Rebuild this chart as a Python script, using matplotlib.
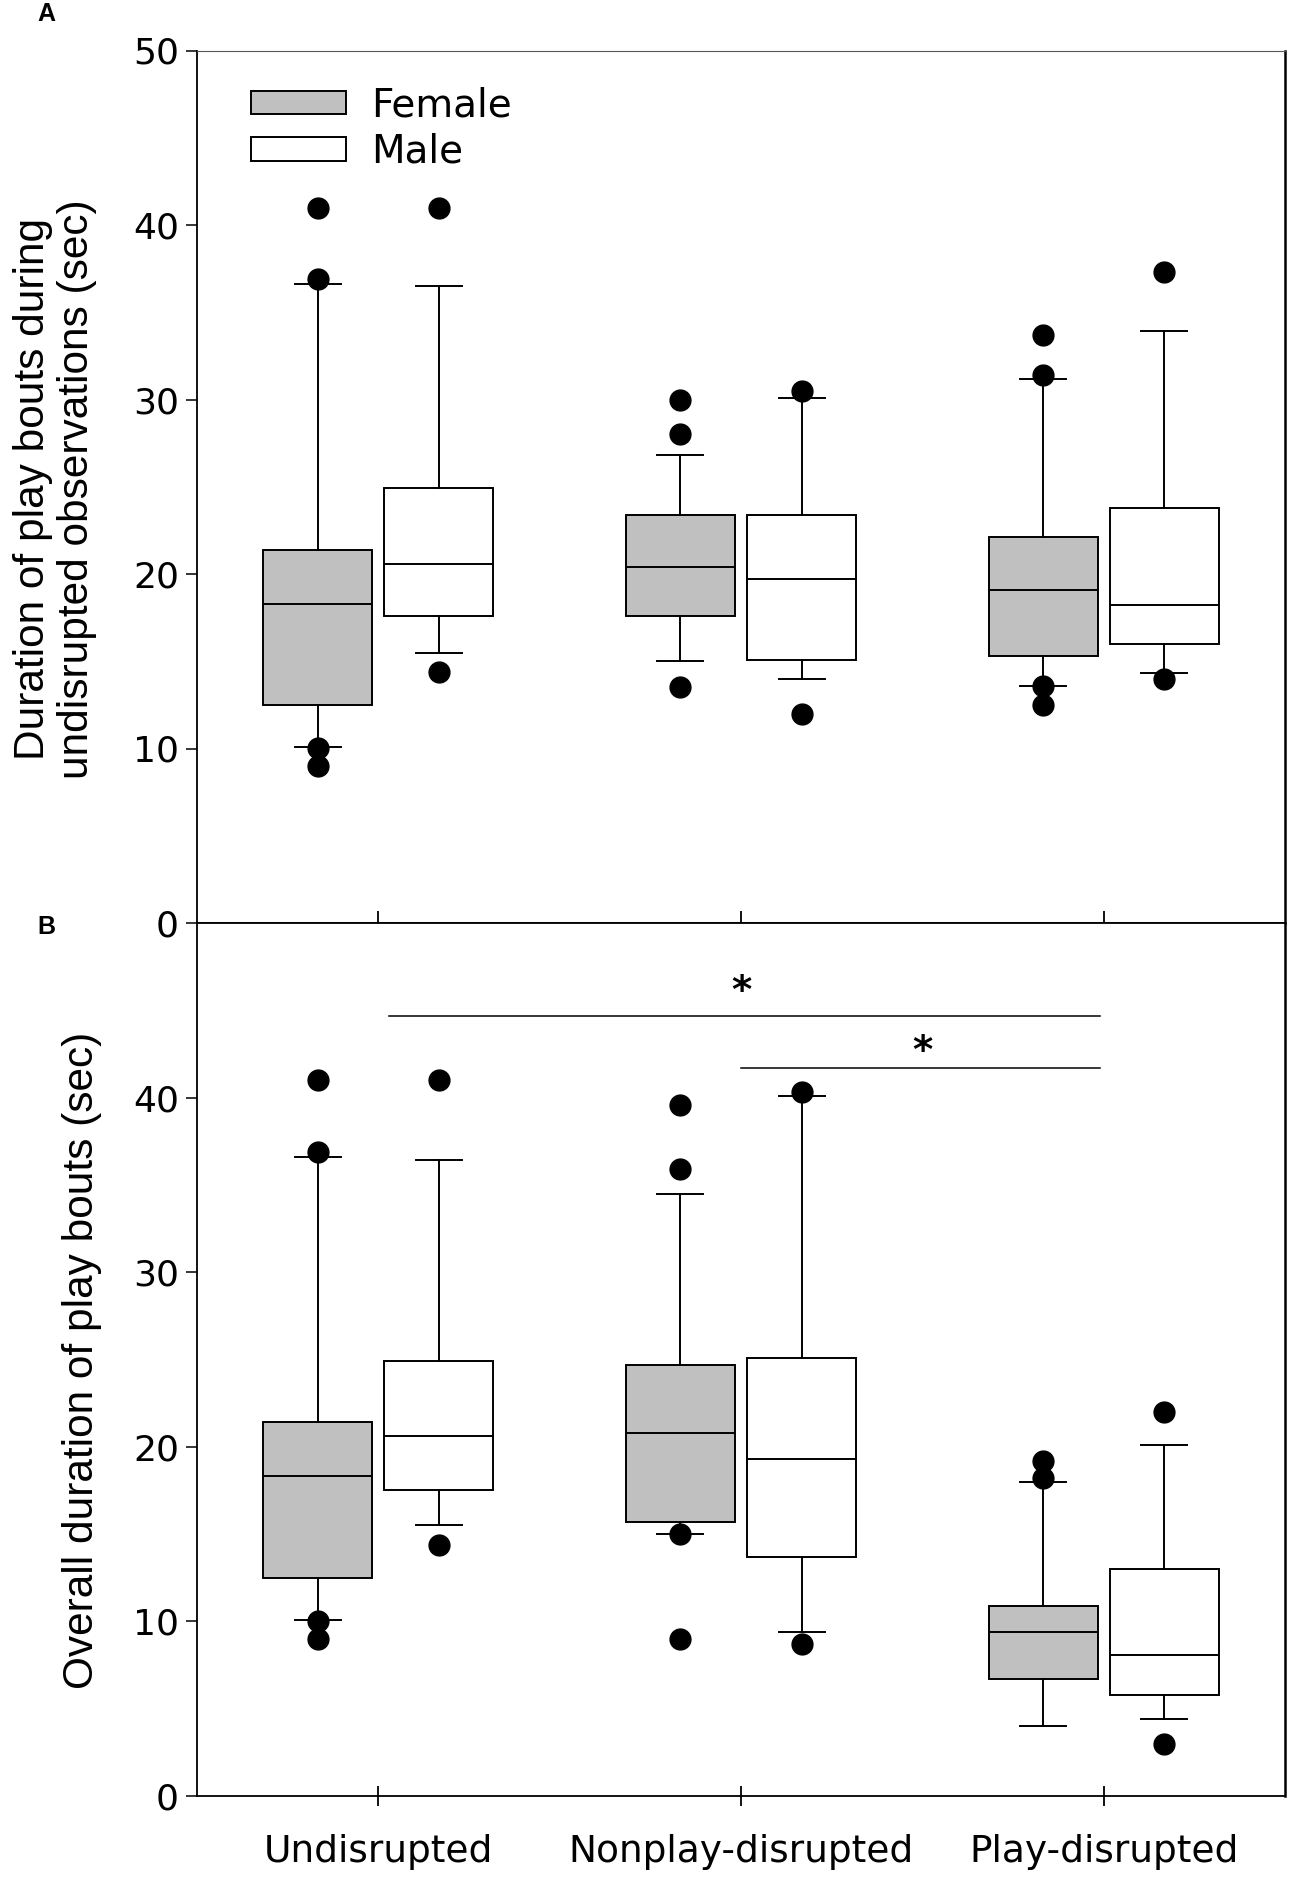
import matplotlib
matplotlib.use("Agg")
import matplotlib.pyplot as plt
from matplotlib.patches import Patch
from matplotlib import font_manager
from matplotlib.transforms import offset_copy

# ---------------- data ----------------
categories = ['Undisrupted', 'Nonplay-disrupted', 'Play-disrupted']
groups = ['Female', 'Male']

# Panel A: duration of play bouts during undisrupted observations
A_female_q1 = [12.5, 17.6, 15.3]
A_female_med = [18.3, 20.4, 19.1]
A_female_q3 = [21.4, 23.4, 22.1]
A_female_wlo = [10.1, 15.0, 13.6]
A_female_whi = [36.6, 26.8, 31.2]
A_female_fliers = [[41.0, 36.9, 10.05, 9.0], [30.0, 28.0, 13.5], [33.7, 31.4, 13.6, 12.5]]

A_male_q1 = [17.6, 15.1, 16.0]
A_male_med = [20.6, 19.7, 18.2]
A_male_q3 = [24.9, 23.4, 23.8]
A_male_wlo = [15.5, 14.0, 14.3]
A_male_whi = [36.5, 30.1, 33.9]
A_male_fliers = [[41.0, 14.4], [30.5, 12.0], [37.3, 14.0]]

# Panel B: overall duration of play bouts
B_female_q1 = [12.5, 15.7, 6.7]
B_female_med = [18.3, 20.8, 9.4]
B_female_q3 = [21.4, 24.7, 10.9]
B_female_wlo = [10.1, 15.0, 4.0]
B_female_whi = [36.6, 34.5, 18.0]
B_female_fliers = [[41.0, 36.9, 10.05, 9.0], [39.6, 35.9, 15.0, 9.0], [19.2, 18.2]]

B_male_q1 = [17.5, 13.7, 5.8]
B_male_med = [20.6, 19.3, 8.1]
B_male_q3 = [24.9, 25.1, 13.0]
B_male_wlo = [15.5, 9.4, 4.4]
B_male_whi = [36.4, 40.1, 20.1]
B_male_fliers = [[41.0, 14.4], [40.3, 8.7], [22.0, 3.0]]

# significance comparisons in panel B (category indices) and labels
sig_pairs = [(0, 2), (1, 2)]
sig_levels = [44.7, 41.7]
sig_label_y = [46.4, 43.0]
sig_labels = ['*', '*']

yticks_A = [0, 10, 20, 30, 40, 50]
yticks_B = [0, 10, 20, 30, 40]
ylabel_A = 'Duration of play bouts during\nundisrupted observations (sec)'
ylabel_B = 'Overall duration of play bouts (sec)'

# ---------------- style ----------------
female_color = '#c0c0c0'
male_color = '#ffffff'
names = {f.name for f in font_manager.fontManager.ttflist}
narrow = 'Liberation Sans Narrow' if 'Liberation Sans Narrow' in names else 'Liberation Sans'

W, H = 1299, 1888
fig = plt.figure(figsize=(W / 100, H / 100), dpi=100)

left, right = 197 / W, 1285 / W
yA_top, yMid, yB_bot = 1 - 50.5 / H, 1 - 923 / H, 1 - 1796 / H
axA = fig.add_axes([left, yMid, right - left, yA_top - yMid])
axB = fig.add_axes([left, yB_bot, right - left, yMid - yB_bot])

offset = 0.167
bw = 0.3
capw = 0.127
LW = 1.4


def make_stats(q1, med, q3, wlo, whi, fl):
    out = []
    for i in range(len(q1)):
        out.append(dict(q1=q1[i], med=med[i], q3=q3[i], whislo=wlo[i],
                        whishi=whi[i], fliers=fl[i]))
    return out


def draw(ax, fstats, mstats):
    common = dict(widths=bw, capwidths=capw, patch_artist=True, manage_ticks=False,
                  whiskerprops=dict(color='black', linewidth=LW),
                  capprops=dict(color='black', linewidth=LW),
                  medianprops=dict(color='black', linewidth=LW),
                  flierprops=dict(marker='o', markerfacecolor='black',
                                  markeredgecolor='black', markersize=15,
                                  linestyle='none'))
    ax.bxp(fstats, positions=[i - offset for i in range(len(categories))],
           boxprops=dict(facecolor=female_color, edgecolor='black', linewidth=LW), **common)
    ax.bxp(mstats, positions=[i + offset for i in range(len(categories))],
           boxprops=dict(facecolor=male_color, edgecolor='black', linewidth=LW), **common)
    ax.set_xlim(-0.5, len(categories) - 0.5)
    ax.set_ylim(0, 50)
    ax.set_xticks(range(len(categories)))
    ax.tick_params(axis='x', direction='inout', length=17, width=1.3)
    ax.tick_params(axis='y', direction='out', length=8, width=1.1, labelsize=26, pad=5)
    for lab in ax.get_yticklabels():
        lab.set_family('DejaVu Sans')
    for sp in ax.spines.values():
        sp.set_linewidth(1.3)


draw(axA,
     make_stats(A_female_q1, A_female_med, A_female_q3, A_female_wlo, A_female_whi, A_female_fliers),
     make_stats(A_male_q1, A_male_med, A_male_q3, A_male_wlo, A_male_whi, A_male_fliers))
draw(axB,
     make_stats(B_female_q1, B_female_med, B_female_q3, B_female_wlo, B_female_whi, B_female_fliers),
     make_stats(B_male_q1, B_male_med, B_male_q3, B_male_wlo, B_male_whi, B_male_fliers))

axA.set_yticks(yticks_A)
axA.set_xticklabels([])
axA.spines['top'].set_linewidth(0.8)
axA.spines['top'].set_color('#555555')
axA.spines['right'].set_linewidth(1.8)
axB.spines['right'].set_linewidth(1.8)
axB.set_yticks(yticks_B)
axB.set_xticklabels(categories, fontsize=27, family='DejaVu Sans')
axB.tick_params(axis='x', length=15, pad=20)

# significance bars
star_fs = 28
star_tr = offset_copy(axB.transData, fig=fig, x=0, y=-0.45 * star_fs, units='points')
for (a, b), lvl, ly, lab in zip(sig_pairs, sig_levels, sig_label_y, sig_labels):
    axB.plot([a + 0.03 if a == 0 else a, b - 0.01], [lvl, lvl], color='black', linewidth=1.1)
    axB.text((a + b) / 2, ly, lab, ha='center', va='baseline', fontsize=star_fs,
             fontweight='bold', family='DejaVu Sans', transform=star_tr)

# legend
handles = [Patch(facecolor=female_color, edgecolor='black', linewidth=LW, label=groups[0]),
           Patch(facecolor=male_color, edgecolor='black', linewidth=LW, label=groups[1])]
axA.legend(handles=handles, loc='upper left', bbox_to_anchor=(0.035, 0.977), frameon=False,
           prop={'family': 'DejaVu Sans', 'size': 28}, handlelength=2.45, handleheight=0.55,
           handletextpad=0.65, labelspacing=0.22, borderaxespad=0)

# y labels
fig.text(55 / W, 1 - 489 / H, ylabel_A, rotation=90, ha='center', va='center',
         fontsize=30.5, family=narrow, linespacing=1.12)
fig.text(82 / W, 1 - 1360 / H, ylabel_B, rotation=90, ha='center', va='center',
         fontsize=30.5, family=narrow)

# panel letters
fig.text(46 / W, 1 - 14 / H, 'A', ha='center', va='center', fontsize=18,
         fontweight='bold', family='Liberation Sans')
fig.text(46 / W, 1 - 927 / H, 'B', ha='center', va='center', fontsize=18,
         fontweight='bold', family='Liberation Sans')

fig.savefig('out.png', dpi=100)
